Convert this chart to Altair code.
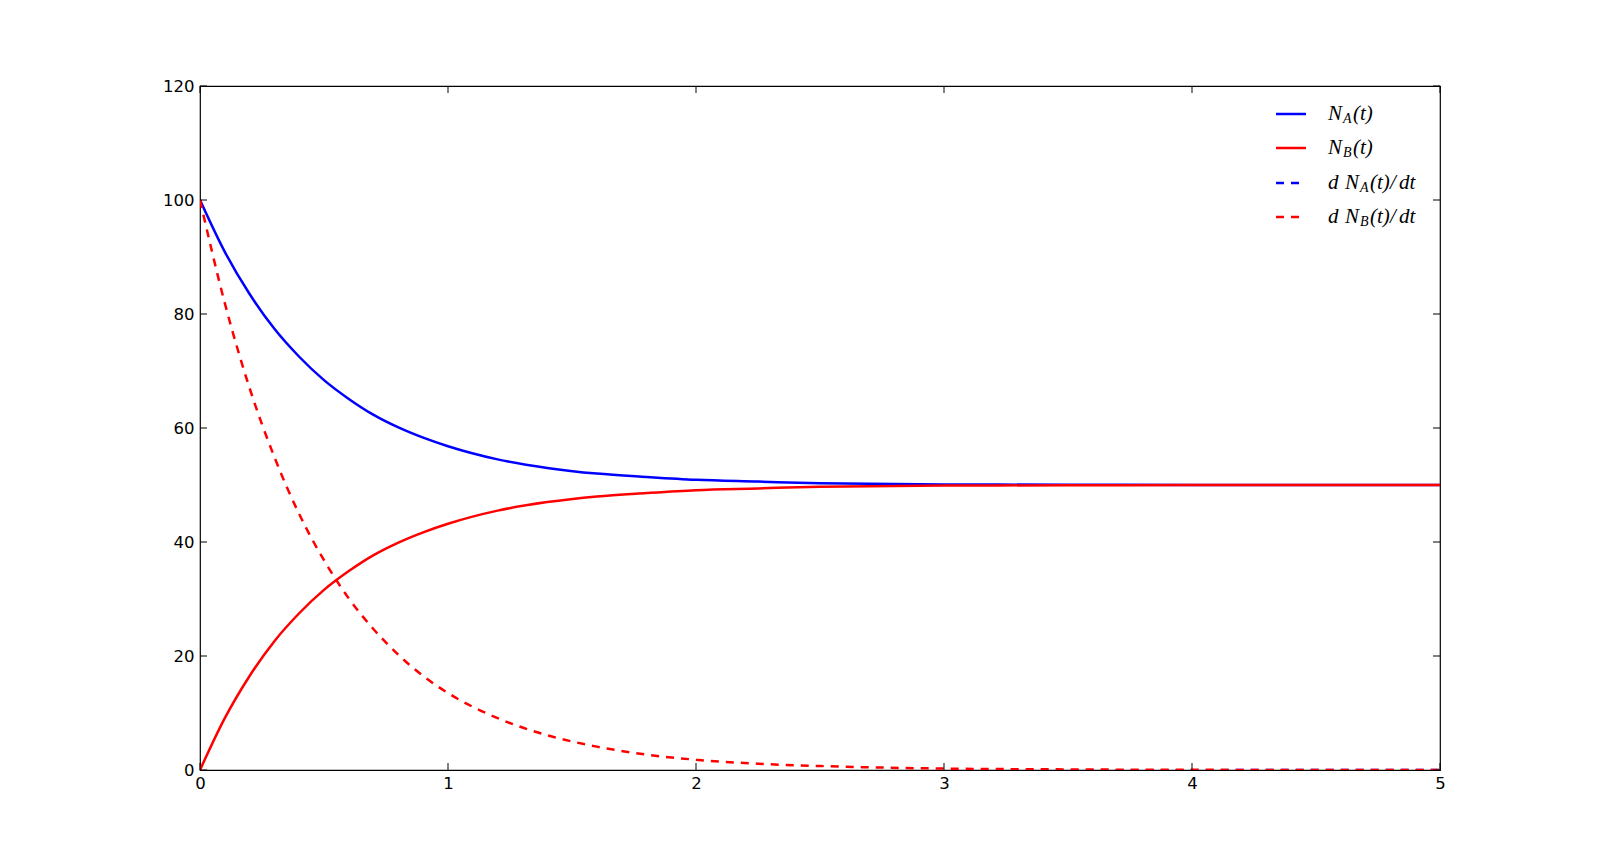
import altair as alt
import pandas as pd

# Values
t = [0, 0.1, 0.2, 0.3, 0.4, 0.5, 0.6, 0.7, 0.8, 0.9, 1.0, 1.2, 1.4, 1.6, 1.8,
     2.0, 2.25, 2.5, 3.0, 3.5, 4.0, 4.5, 5.0]
na = [100, 90.9, 83.5, 77.4, 72.5, 68.4, 65.1, 62.3, 60.1, 58.3, 56.8, 54.5,
      53.0, 52.0, 51.4, 50.9, 50.6, 50.3, 50.1, 50.05, 50.0, 50.0, 50.0]
nb = [0, 9.1, 16.5, 22.6, 27.5, 31.6, 34.9, 37.7, 39.9, 41.7, 43.2, 45.5,
      47.0, 48.0, 48.6, 49.1, 49.4, 49.7, 49.9, 49.95, 50.0, 50.0, 50.0]
dnb = [100, 81.9, 67.0, 54.9, 44.9, 36.8, 30.1, 24.7, 20.2, 16.5, 13.5, 9.1,
       6.1, 4.1, 2.7, 1.8, 1.1, 0.7, 0.25, 0.1, 0.03, 0.01, 0.0]
dna = [-100, -81.9, -67.0, -54.9, -44.9, -36.8, -30.1, -24.7, -20.2, -16.5,
       -13.5, -9.1, -6.1, -4.1, -2.7, -1.8, -1.1, -0.7, -0.25, -0.1, -0.03,
       -0.01, 0.0]

x_ticks = [0, 1, 2, 3, 4, 5]
y_ticks = [0, 20, 40, 60, 80, 100, 120]

W, H = 1240, 684

series = [
    ("NA", na, "#0000ff", []),
    ("NB", nb, "#ff0000", []),
    ("dNA", dna, "#0000ff", [8, 7]),
    ("dNB", dnb, "#ff0000", [8, 7]),
]

xs = alt.Scale(domain=[0, 5], nice=False, zero=False)
ys = alt.Scale(domain=[0, 120], nice=False, zero=False)

xaxis = alt.Axis(values=x_ticks, format="d", domain=False, ticks=False, grid=False,
                 labelFontSize=16.5, labelFont="DejaVu Sans", labelColor="black",
                 labelPadding=5, labelFlush=False, title=None)
yaxis = alt.Axis(values=y_ticks, format="d", domain=False, ticks=False, grid=False,
                 labelFontSize=16.5, labelFont="DejaVu Sans", labelColor="black",
                 labelPadding=6, labelFlush=False, title=None)

X = lambda f: alt.X(f, scale=xs, axis=xaxis)
Y = lambda f: alt.Y(f, scale=ys, axis=yaxis)

layers = []
for name, vals, color, dash in series:
    df = pd.DataFrame({"t": t, "v": vals})
    mk = dict(color=color, strokeWidth=2.5, clip=True, interpolate="monotone")
    if dash:
        mk["strokeDash"] = dash
    layers.append(alt.Chart(df).mark_line(**mk).encode(x=X("t:Q"), y=Y("v:Q")))

# inward ticks on all four sides
xt = pd.DataFrame({"t": x_ticks})
yt = pd.DataFrame({"v": y_ticks})
tick_style = dict(color="black", strokeWidth=1)
layers.append(alt.Chart(xt).mark_rule(**tick_style).encode(
    x=X("t:Q"), y=alt.value(H), y2=alt.value(H - 7)))
layers.append(alt.Chart(xt).mark_rule(**tick_style).encode(
    x=X("t:Q"), y=alt.value(0), y2=alt.value(7)))
layers.append(alt.Chart(yt).mark_rule(**tick_style).encode(
    y=Y("v:Q"), x=alt.value(0), x2=alt.value(7)))
layers.append(alt.Chart(yt).mark_rule(**tick_style).encode(
    y=Y("v:Q"), x=alt.value(W), x2=alt.value(W - 7)))

# legend (custom, with subscripts)
dummy = alt.Data(values=[{"a": 1}])
row_y = [28, 62, 97, 131]
leg_x0, leg_x1 = 1076, 1106
for (name, vals, color, dash), ry in zip(series, row_y):
    mk = dict(color=color, strokeWidth=2.5)
    if dash:
        mk["strokeDash"] = [8, 7]
    layers.append(alt.Chart(dummy).mark_rule(**mk).encode(
        x=alt.value(leg_x0), x2=alt.value(leg_x1), y=alt.value(ry)))

serif = "Liberation Serif"
def txt(s, x, y, size=21, dy=0):
    return alt.Chart(dummy).mark_text(
        text=s, align="left", baseline="middle", font=serif, fontStyle="italic",
        fontSize=size, color="black", dy=dy).encode(x=alt.value(x), y=alt.value(y))

tx = 1128
labels = [("", "A"), ("", "B"), ("d", "A"), ("d", "B")]
for (pre, sub), ry in zip(labels, row_y):
    x = tx
    if pre:
        layers.append(txt("d", x, ry))
        x += 17
    layers.append(txt("N", x, ry))
    layers.append(txt(sub, x + 15, ry, size=14, dy=5))
    layers.append(txt("(t)", x + 25, ry))
    if pre:
        layers.append(txt("/", x + 45, ry))
        layers.append(txt("dt", x + 54, ry))

chart = alt.layer(*layers).properties(
    width=W, height=H,
    autosize=alt.AutoSizeParams(type="none"),
    padding={"left": 192, "top": 78, "right": 140, "bottom": 60},
).configure(background="white").configure_view(stroke="black", strokeWidth=1.2)

chart.save("out.html", embed_options={"renderer": "svg", "actions": False})
